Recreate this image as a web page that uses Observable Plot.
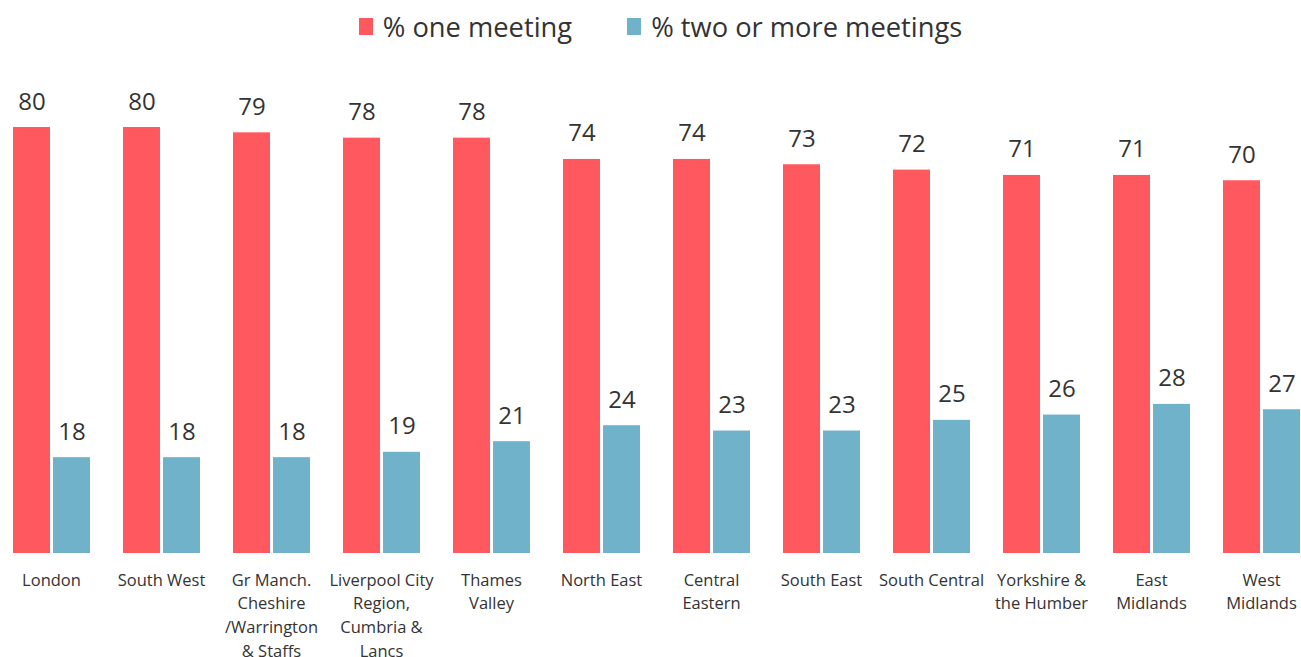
<!DOCTYPE html>
<html>
<head>
<meta charset="utf-8">
<script src="https://cdn.jsdelivr.net/npm/d3@7"></script>
<script src="https://cdn.jsdelivr.net/npm/@observablehq/plot@0.6"></script>
<style>
  html, body { margin: 0; padding: 0; background: #fff; }
  body { width: 1301px; height: 657px; overflow: hidden; font-family: "Open Sans", sans-serif; }
  #legend { height: 60px; display: flex; justify-content: center; align-items: center; padding-left: 20px; padding-bottom: 8px; box-sizing: border-box; color: #333; font-size: 27.3px; }
  .item { display: flex; align-items: center; }
  .item + .item { margin-left: 55px; }
  .sw { width: 14px; height: 17px; margin-right: 10px; }
  #chart svg { display: block; overflow: visible; }
</style>
</head>
<body>
<div id="legend"></div>
<div id="chart"></div>
<script>
const regions = ["London","South West","Gr Manch. Cheshire /Warrington & Staffs","Liverpool City Region, Cumbria & Lancs","Thames Valley","North East","Central Eastern","South East","South Central","Yorkshire & the Humber","East Midlands","West Midlands"];
const regionLabels = ["London","South West","Gr Manch.\nCheshire\n/Warrington\n& Staffs","Liverpool City\nRegion,\nCumbria &\nLancs","Thames\nValley","North East","Central\nEastern","South East","South Central","Yorkshire &\nthe Humber","East\nMidlands","West\nMidlands"];
const oneMeeting = [80,80,79,78,78,74,74,73,72,71,71,70];
const twoOrMore = [18,18,18,19,21,24,23,23,25,26,28,27];
const seriesNames = ["% one meeting","% two or more meetings"];
const seriesColors = ["#FF585E","#70B2C9"];

const data = [];
regions.forEach((r, i) => {
  data.push({region: r, series: seriesNames[0], value: oneMeeting[i]});
  data.push({region: r, series: seriesNames[1], value: twoOrMore[i]});
});
const labelMap = new Map(regions.map((r, i) => [r, regionLabels[i]]));

const legend = document.getElementById("legend");
seriesNames.forEach((s, i) => {
  const it = document.createElement("div");
  it.className = "item";
  it.innerHTML = `<div class="sw" style="background:${seriesColors[i]}"></div><span>${s}</span>`;
  legend.appendChild(it);
});

const chart = Plot.plot({
  width: 1301,
  height: 597,
  marginTop: 67,
  marginBottom: 104,
  marginLeft: 0,
  marginRight: 0,
  style: {fontFamily: "'Open Sans', sans-serif", color: "#333"},
  fx: {domain: regions, range: [-5, 1317.4], padding: 0, axis: null},
  x: {domain: seriesNames, range: [17, 94], paddingInner: 0.075, paddingOuter: 0, axis: null},
  y: {domain: [0, 80], axis: null},
  color: {domain: seriesNames, range: seriesColors},
  marks: [
    Plot.barY(data, {fx: "region", x: "series", y: "value", fill: "series"}),
    Plot.text(data, {fx: "region", x: "series", y: "value", text: d => String(d.value), lineAnchor: "bottom", dy: -18, fontSize: 24, fill: "#333"}),
    Plot.axisFx({anchor: "bottom", tickSize: 0, tickPadding: 15, fontSize: 16.5, lineHeight: 1.45, label: null, tickFormat: d => labelMap.get(d), fill: "#333"})
  ]
});
document.getElementById("chart").appendChild(chart);
</script>
</body>
</html>
